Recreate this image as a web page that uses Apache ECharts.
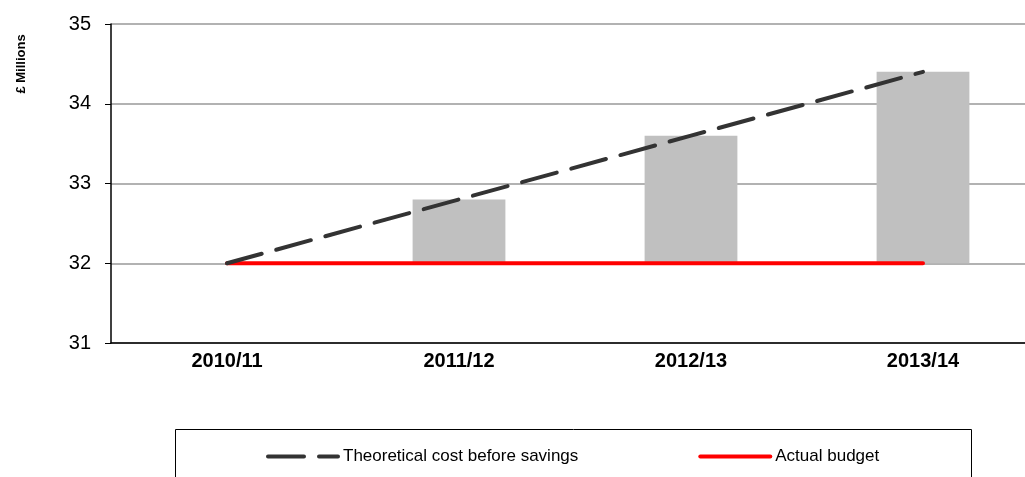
<!DOCTYPE html>
<html>
<head>
<meta charset="utf-8">
<script src="https://cdn.jsdelivr.net/npm/echarts@6/dist/echarts.min.js"></script>
<style>
  html, body { margin: 0; padding: 0; background: #fff; overflow: hidden; }
  #main { width: 1039px; height: 477px; }
</style>
</head>
<body>
<div id="main"></div>
<script>
// 数据
var categories = ['2010/11', '2011/12', '2012/13', '2013/14'];
var theoretical = [32, 32.8, 33.6, 34.4];
var budget = [32, 32, 32, 32];
var yTicks = [31, 32, 33, 34, 35];

// 灰色柱子 = 理论成本 - 实际预算
var gap = theoretical.map(function (v, i) { return +(v - budget[i]).toFixed(2); });

var myChart = echarts.init(document.getElementById('main'));
var font = 'Liberation Sans, Arial, sans-serif';

var option = {
  animation: false,
  grid: { left: 111, top: 24, right: 0, bottom: 134 },
  xAxis: {
    type: 'category',
    data: categories,
    axisLine: { lineStyle: { color: '#000', width: 1.5 } },
    axisTick: { length: 5, lineStyle: { color: '#000' } },
    axisLabel: { color: '#000', fontWeight: 'bold', fontSize: 20, fontFamily: font, margin: 8 }
  },
  yAxis: {
    type: 'value',
    min: yTicks[0],
    max: yTicks[yTicks.length - 1],
    interval: 1,
    axisLine: { show: true, lineStyle: { color: '#000', width: 1.5 } },
    axisTick: { show: true, length: 6, lineStyle: { color: '#000' } },
    axisLabel: { color: '#000', fontSize: 20, fontFamily: font, margin: 20 },
    splitLine: { lineStyle: { color: '#999', width: 1.5 } }
  },
  legend: {
    left: 261,
    top: 443,
    itemWidth: 70,
    itemHeight: 14,
    itemGap: 120,
    itemStyle: { opacity: 0 },
    lineStyle: { width: 'inherit' },
    textStyle: { color: '#000', fontSize: 17, fontFamily: font },
    data: ['Theoretical cost before savings', 'Actual budget']
  },
  graphic: [
    {
      type: 'rect',
      shape: { x: 175.5, y: 429.5, width: 796, height: 80 },
      style: { fill: 'none', stroke: '#000', lineWidth: 1 },
      z: -1
    },
    {
      type: 'text',
      x: 21,
      y: 64,
      rotation: Math.PI / 2,
      style: {
        text: '£ Millions',
        fontSize: 13,
        fontWeight: 'bold',
        fontFamily: font,
        fill: '#000',
        align: 'center',
        verticalAlign: 'middle'
      }
    }
  ],
  series: [
    {
      name: 'base',
      type: 'bar',
      stack: 'b',
      data: budget,
      barWidth: '40%',
      itemStyle: { color: 'transparent' },
      silent: true
    },
    {
      name: 'gap',
      type: 'bar',
      stack: 'b',
      data: gap,
      barWidth: '40%',
      itemStyle: { color: '#c0c0c0' }
    },
    {
      name: 'Theoretical cost before savings',
      type: 'line',
      data: theoretical,
      symbol: 'none',
      z: 5,
      lineStyle: { color: '#333', width: 4, type: [36, 15], cap: 'round' },
      itemStyle: { color: '#333' }
    },
    {
      name: 'Actual budget',
      type: 'line',
      data: budget,
      symbol: 'none',
      z: 4,
      lineStyle: { color: '#ff0000', width: 4, cap: 'round' },
      itemStyle: { color: '#ff0000' }
    }
  ]
};

myChart.setOption(option);
</script>
</body>
</html>
